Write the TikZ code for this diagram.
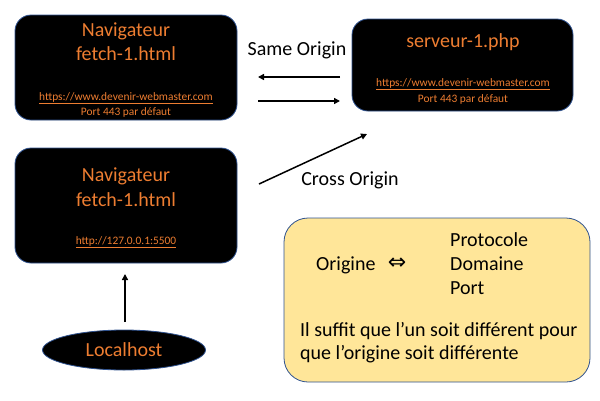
\documentclass[tikz,border=0pt]{standalone}
\usepackage{fontspec}
\setmainfont{Carlito}
\usetikzlibrary{shapes.geometric,arrows.meta}
\definecolor{borange}{HTML}{ED7D31}
\definecolor{bblue}{HTML}{2F528F}
\definecolor{byellow}{HTML}{FFE699}
\tikzset{
  darkbox/.style={draw=bblue, line width=0.8pt, fill=black, rounded corners=16pt},
  notebox/.style={draw=bblue, line width=0.8pt, fill=byellow, rounded corners=24pt},
  title/.style={text=borange, font=\fontsize{20}{24}\selectfont, inner sep=0pt},
  small/.style={text=borange, font=\fontsize{11.4}{13}\selectfont, inner sep=0pt},
  lbl/.style={text=black, font=\fontsize{20}{24}\selectfont, inner sep=0pt},
  arr/.style={-{Triangle[length=6pt,width=6pt]}, line width=1.5pt},
}
\begin{document}
\begin{tikzpicture}[x=1pt,y=-1pt]
\useasboundingbox (0,0) rectangle (600,400);
% boxes
\draw[darkbox] (15,15) rectangle (237,120);
\draw[darkbox] (352,19) rectangle (573,111);
\draw[darkbox] (15,148) rectangle (237,263);
\draw[notebox] (284,218) rectangle (590,382);
\node[ellipse, draw=bblue, line width=0.8pt, fill=black, minimum width=163pt, minimum height=40pt, inner sep=0pt] (loc) at (124,350) {};
% box 1
\node[title] (n1a) at (126,31) {Navigateur};
\node[title] (n1b) at (126,54) {fetch-1.html};
\node[small] (n1c) at (126,98) {\underline{https://www.devenir-webmaster.com}};
\node[small] (n1d) at (126,112) {Port 443 par défaut};
% server
\node[title] (s1) at (463,42) {serveur-1.php};
\node[small] (s2) at (463,84) {\underline{https://www.devenir-webmaster.com}};
\node[small] (s3) at (463,99) {Port 443 par défaut};
% box 3
\node[title] (n3a) at (126,176) {Navigateur};
\node[title] (n3b) at (126,200) {fetch-1.html};
\node[small] (n3c) at (126,242) {\underline{http://127.0.0.1:5500}};
% localhost
\node[title] (lh) at (124,350) {Localhost};
% labels
\node[lbl] (same) at (297,50) {Same Origin};
\node[lbl] (cross) at (350,180) {Cross Origin};
% arrows
\coordinate (a1s) at (340,77); \coordinate (a1e) at (258,77);
\coordinate (a2s) at (258,101); \coordinate (a2e) at (340,101);
\coordinate (a3s) at (259,184); \coordinate (a3e) at (367,134);
\coordinate (a4s) at (125,322); \coordinate (a4e) at (125,274);
\draw[arr] (a1s) -- (a1e);
\draw[arr] (a2s) -- (a2e);
\draw[arr] (a3s) -- (a3e);
\draw[arr] (a4s) -- (a4e);
% note content
\node[lbl, anchor=west] (orig) at (316,265) {Origine};
\node[text=black, font=\fontsize{22}{24}\selectfont\fontspec{DejaVu Sans}, inner sep=0pt] (eq) at (397,264) {⇔};
\node[lbl, anchor=west] (p1) at (450,240) {Protocole};
\node[lbl, anchor=west] (p2) at (450,264) {Domaine};
\node[lbl, anchor=west] (p3) at (450,288) {Port};
\node[lbl, anchor=west] (t1) at (300,331) {Il suffit que l’un soit différent pour};
\node[lbl, anchor=west] (t2) at (300,354) {que l’origine soit différente};
\end{tikzpicture}
\end{document}
